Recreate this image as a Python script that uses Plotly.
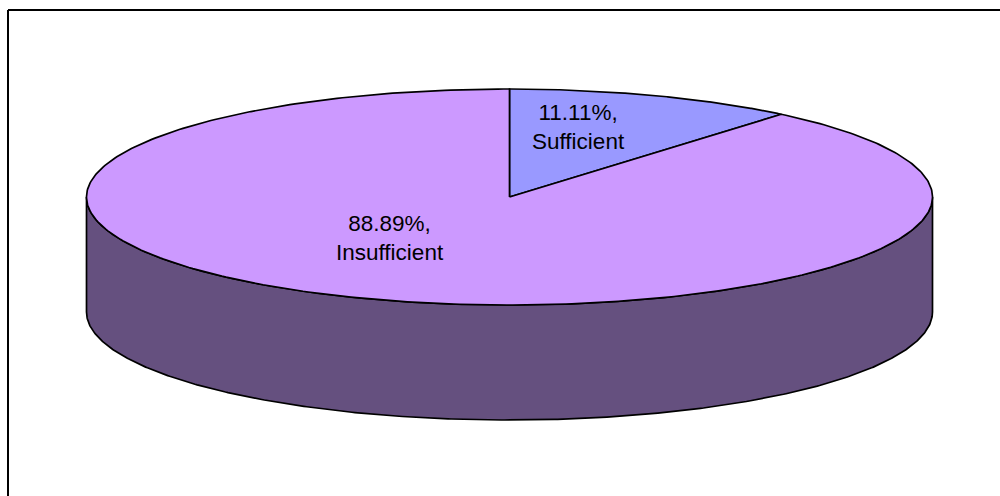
import numpy as np
import plotly.graph_objects as go

categories = ["Sufficient", "Insufficient"]
shares = [11.11, 88.89]
share_labels = ["11.11%", "88.89%"]
slice_colors = ["#9999FF", "#CC99FF"]
wall_color = "#65507F"

W, H = 1000, 496
cx, cy, rx, ry, depth = 509.5, 197.0, 423.0, 108.0, 115.0
label_pos = [(578, 127), (390, 238)]


def rim(a0, a1, n=400):
    t = np.radians(np.linspace(a0, a1, n))
    return cx + rx * np.sin(t), cy - ry * np.cos(t)


fig = go.Figure()
LINE = dict(color="#000000", width=1.7)

# side wall (front half of the cylinder)
xf, yf = rim(90, 270)
fig.add_trace(go.Scatter(
    x=np.r_[xf, xf[::-1], xf[0]], y=np.r_[yf, yf[::-1] + depth, yf[0]],
    mode="lines", fill="toself", fillcolor=wall_color, line=LINE, hoverinfo="skip"))

# top face slices, from the values
start = 0.0
total = sum(shares)
for name, share, color in zip(categories, shares, slice_colors):
    end = start + 360.0 * share / total
    xs, ys = rim(start, end)
    fig.add_trace(go.Scatter(
        x=np.r_[cx, xs, cx], y=np.r_[cy, ys, cy], name=name,
        mode="lines", fill="toself", fillcolor=color, line=LINE, hoverinfo="skip"))
    start = end

# labels
for name, pct, (lx, ly) in zip(categories, share_labels, label_pos):
    fig.add_annotation(x=lx, y=ly, text=f"{pct},<br>{name}", showarrow=False,
                       font=dict(family="Liberation Sans, Arial", size=22.5, color="#000000"),
                       align="center", xanchor="center", yanchor="middle")

# frame: top and left edges only
fig.add_shape(type="line", x0=8, x1=W, y0=10, y1=10, line=dict(color="#000000", width=2))
fig.add_shape(type="line", x0=8, x1=8, y0=10, y1=H, line=dict(color="#000000", width=2))

fig.update_layout(
    width=W, height=H, margin=dict(l=0, r=0, t=0, b=0), showlegend=False,
    paper_bgcolor="#FFFFFF", plot_bgcolor="#FFFFFF",
    xaxis=dict(range=[0, W], visible=False, fixedrange=True),
    yaxis=dict(range=[H, 0], visible=False, fixedrange=True),
)
fig.write_html("out.html", config={"displayModeBar": False},
               post_script="document.body.style.margin='0';document.documentElement.style.overflow='hidden';")
